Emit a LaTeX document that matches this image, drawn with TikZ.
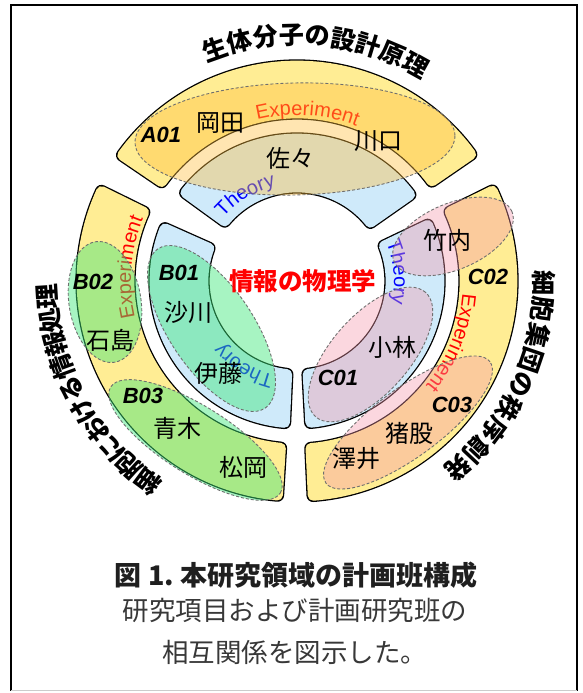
\documentclass[tikz,border=0pt]{standalone}
\usepackage{fontspec}
\setmainfont{Liberation Sans}
\newfontfamily\jp{Noto Sans CJK JP}
\usetikzlibrary{decorations.text}

\definecolor{bandyellow}{RGB}{255,237,148}
\definecolor{bandblue}{RGB}{207,234,250}
\definecolor{ellorange}{RGB}{255,190,60}
\definecolor{ellgreen}{RGB}{60,230,120}
\definecolor{ellpink}{RGB}{245,150,170}
\definecolor{dashgray}{RGB}{110,110,110}

\newcommand\secrad{6}
% rounded annular sector: #1 start angle, #2 end angle, #3 inner r, #4 outer r, #5 colour
\newcommand\ringsec[5]{%
  \pgfmathsetmacro\secri{#3+\secrad}%
  \pgfmathsetmacro\secro{#4-\secrad}%
  \pgfmathsetmacro\secdi{asin(\secrad/\secri)}%
  \pgfmathsetmacro\secdo{asin(\secrad/\secro)}%
  \pgfmathsetmacro\secai{#1+\secdi}%
  \pgfmathsetmacro\secbi{#2-\secdi}%
  \pgfmathsetmacro\secao{#1+\secdo}%
  \pgfmathsetmacro\secbo{#2-\secdo}%
  \path[draw=black,line width={(2*\secrad+1.3)*1pt},line join=round]
    (\secai:\secri) arc[start angle=\secai,end angle=\secbi,radius=\secri]
    -- (\secbo:\secro) arc[start angle=\secbo,end angle=\secao,radius=\secro] -- cycle;
  \path[fill=#5,draw=#5,line width={(2*\secrad-1.3)*1pt},line join=round]
    (\secai:\secri) arc[start angle=\secai,end angle=\secbi,radius=\secri]
    -- (\secbo:\secro) arc[start angle=\secbo,end angle=\secao,radius=\secro] -- cycle;
}
% text along an arc, read clockwise: #1 centre angle, #2 radius, #3 colour, #4 text
\newcommand\arctext[4]{%
  \pgfmathsetmacro\arcsa{#1+40}%
  \pgfmathsetmacro\arcea{#1-40}%
  \path[decorate,decoration={text along path,text align=center,
      text={|\fontsize{20}{20}\selectfont\color{#3}|#4}}]
    (\arcsa:#2) arc[start angle=\arcsa,end angle=\arcea,radius=#2];
}

\tikzset{
  nm/.style={font=\jp\fontsize{24}{24}\selectfont,inner sep=0pt},
  grp/.style={font=\bfseries\itshape\fontsize{22}{22}\selectfont,inner sep=0pt},
  ttl/.style={font=\jp\bfseries\fontsize{25}{25}\selectfont,inner sep=0pt},
  ell/.style 2 args={draw=dashgray,line width=0.9pt,dash pattern=on 3pt off 2pt,fill=#1,fill opacity=#2},
}

\begin{document}
\begin{tikzpicture}[x=1pt,y=1pt]
\useasboundingbox (0,0) rectangle (583,693);
% frame
\draw[line width=2pt] (11.3,2) -- (11.3,687.5) -- (577.3,687.5) -- (577.3,2);
\draw[black!20,line width=1pt] (11.3,2.3) -- (577.3,2.3);

\begin{scope}[shift={(297,412)}]
  % bands
  \ringsec{34.5}{145.8}{162}{221}{bandyellow}
  \ringsec{35}{144}{88}{148}{bandblue}
  \ringsec{153.8}{266.4}{162}{221}{bandyellow}
  \ringsec{156}{267.4}{88}{148}{bandblue}
  \ringsec{272.7}{386.3}{162}{221}{bandyellow}
  \ringsec{273.1}{385.5}{88}{148}{bandblue}
  % band labels
  \arctext{86.4}{166}{red}{Experiment}
  \arctext{175.3}{166}{red}{Experiment}
  \arctext{-21.7}{166}{red}{Experiment}
  \arctext{121}{97}{blue}{Theory}
  \arctext{238}{97}{blue}{Theory}
  \arctext{4.8}{97}{blue}{Theory}
\end{scope}

% group ellipses
\path[ell={ellorange}{0.4},rotate around={1.3:(295,554)}] (295,554) ellipse[x radius=160,y radius=56];
\path[ell={ellgreen}{0.45},rotate around={9:(105,391)}] (105,391) ellipse[x radius=36,y radius=61];
\path[ell={ellgreen}{0.45},rotate around={-56:(211.5,364.5)}] (211.5,364.5) ellipse[x radius=96,y radius=42];
\path[ell={ellgreen}{0.45},rotate around={-32:(195.5,253)}] (195.5,253) ellipse[x radius=100,y radius=34];
\path[ell={ellpink}{0.38},rotate around={23:(453,456.5)}] (453,456.5) ellipse[x radius=64,y radius=33];
\path[ell={ellpink}{0.38},rotate around={48.5:(370.5,338.5)}] (370.5,338.5) ellipse[x radius=83,y radius=39];
\path[ell={ellpink}{0.38},rotate around={36.5:(408,270.5)}] (408,270.5) ellipse[x radius=102,y radius=34];

% group codes
\node[grp] (a01) at (161,558) {A01};
\node[grp] (b01) at (179,420) {B01};
\node[grp] (b02) at (93,411) {B02};
\node[grp] (b03) at (143,297) {B03};
\node[grp] (c01) at (338,315) {C01};
\node[grp] (c02) at (488,416) {C02};
\node[grp] (c03) at (452,288) {C03};

% names
\node[nm] (okada) at (220,570) {岡田};
\node[nm] (kawaguchi) at (378,552) {川口};
\node[nm] (sasa) at (290,535) {佐々};
\node[nm] (isagawa) at (188,380) {沙川};
\node[nm] (ishijima) at (110,353) {石島};
\node[nm] (ito) at (218,320) {伊藤};
\node[nm] (aoki) at (177,265) {青木};
\node[nm] (matsuoka) at (243,226) {松岡};
\node[nm] (takeuchi) at (447,453) {竹内};
\node[nm] (kobayashi) at (392,346) {小林};
\node[nm] (inomata) at (409,260) {猪股};
\node[nm] (sawai) at (356,234) {澤井};

% centre title
\node[font=\jp\bfseries\fontsize{24.5}{24.5}\selectfont,text=red,inner sep=0pt] (centre) at (302.5,412) {情報の物理学};

% curved titles
\begin{scope}[shift={(297,412)}]
  \foreach \c [count=\i from 0] in {生,体,分,子,の,設,計,原,理}{
    \pgfmathsetmacro\ang{109.5-6.06*\i}
    \node[ttl,rotate=\ang-90] (ta\i) at (\ang:246) {\c};
  }
  \foreach \c [count=\i from 0] in {細,胞,に,お,け,る,情,報,処,理}{
    \pgfmathsetmacro\ang{233.3-5.52*\i}
    \node[ttl,rotate=\ang-90] (tb\i) at (\ang:250) {\c};
  }
  \foreach \c [count=\i from 0] in {細,胞,集,団,の,秩,序,創,発}{
    \pgfmathsetmacro\ang{-0.5-6.1*\i}
    \node[ttl,rotate=\ang-90] (tc\i) at (\ang:247) {\c};
  }
\end{scope}

% caption
\node[font=\jp\bfseries\fontsize{27}{27}\selectfont,text=black!88,inner sep=0pt] (cap1) at (296,118) {図 1.\ 本研究領域の計画班構成};
\node[font=\jp\fontsize{26.5}{26.5}\selectfont,text=black!78,inner sep=0pt] (cap2) at (295,83) {研究項目および計画研究班の};
\node[font=\jp\fontsize{26.5}{26.5}\selectfont,text=black!78,inner sep=0pt] (cap3) at (294.5,41) {相互関係を図示した。};
\end{tikzpicture}
\end{document}
